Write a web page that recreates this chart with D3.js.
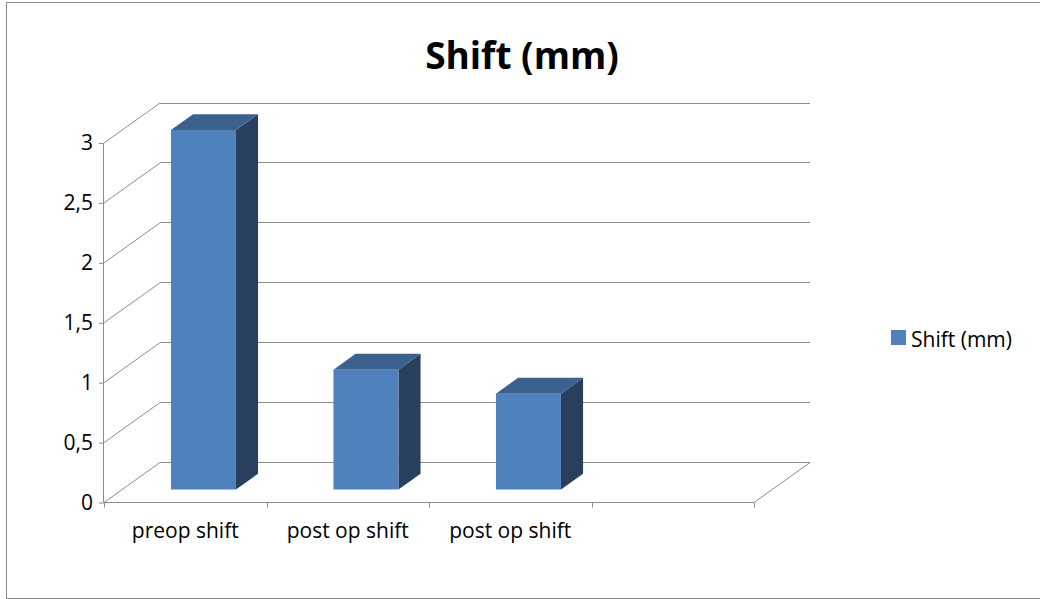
<!DOCTYPE html>
<html>
<head>
<meta charset="utf-8">
<script src="https://cdn.jsdelivr.net/npm/d3@7"></script>
<style>
  html, body { margin: 0; padding: 0; background: #fff; }
  svg { display: block; font-family: "Open Sans", Lato, sans-serif; }
</style>
</head>
<body>
<svg id="chart" width="1040" height="599"></svg>
<script>
// Chart data
const categories = ["preop shift", "post op shift", "post op shift", ""];
const values = [3, 1, 0.8, null];
const yTicks = [0, 0.5, 1, 1.5, 2, 2.5, 3];
const seriesName = "Shift (mm)";
const chartTitle = "Shift (mm)";

const svg = d3.select("#chart");
const FONT = "'Open Sans', sans-serif";
const LABEL_SIZE = 21;

// Outer frame
svg.append("rect")
  .attr("x", 6.5).attr("y", 2.5)
  .attr("width", 1040).attr("height", 596)
  .attr("fill", "#fff").attr("stroke", "#8a8a8a").attr("stroke-width", 1);

// Front plane scales
const x = d3.scaleBand()
  .domain(d3.range(categories.length))
  .range([104, 754])
  .paddingInner(0).paddingOuter(0);
const y = d3.scaleLinear().domain([0, 3]).range([502.5, 143]);

// Depth of the 3D box (offset of the back wall)
const depthX = 56, depthY = -40;
// Depth span occupied by the bars (fractions of the box depth)
const barFront = 0.325, barBack = 0.72;
const gapWidth = 1.5; // bar width = band / (1 + gap)

const gridColor = "#8c8c8c";
const g = svg.append("g");

// Back wall gridlines
g.selectAll("line.back")
  .data(yTicks)
  .join("line")
  .attr("x1", x.range()[0] + depthX).attr("x2", x.range()[1] + depthX)
  .attr("y1", d => y(d) + depthY).attr("y2", d => y(d) + depthY)
  .attr("stroke", gridColor).attr("stroke-width", 1)
  .attr("shape-rendering", "crispEdges");

// Side wall diagonals
g.selectAll("line.side")
  .data(yTicks)
  .join("line")
  .attr("x1", x.range()[0]).attr("y1", d => y(d))
  .attr("x2", x.range()[0] + depthX).attr("y2", d => y(d) + depthY)
  .attr("stroke", gridColor).attr("stroke-width", 1);

// Floor right edge
g.append("line")
  .attr("x1", x.range()[1]).attr("y1", y(0))
  .attr("x2", x.range()[1] + depthX).attr("y2", y(0) + depthY)
  .attr("stroke", gridColor).attr("stroke-width", 1);

// Y axis
const yAxis = d3.axisLeft(y)
  .tickValues(yTicks)
  .tickSize(5)
  .tickPadding(6)
  .tickFormat(d => String(d).replace(".", ","));
const yAxisG = svg.append("g")
  .attr("transform", `translate(${x.range()[0]},0)`)
  .call(yAxis);
yAxisG.select(".domain").attr("stroke", gridColor).attr("d", `M-0.5,${y(0)}V${y(3)}`);
yAxisG.selectAll(".tick line").attr("stroke", gridColor);
yAxisG.selectAll(".tick text")
  .attr("fill", "#000").attr("font-size", LABEL_SIZE).attr("font-family", FONT);

// X axis (category boundaries as ticks)
const xAxisG = svg.append("g");
xAxisG.append("line")
  .attr("x1", x.range()[0]).attr("x2", x.range()[1])
  .attr("y1", y(0)).attr("y2", y(0))
  .attr("stroke", gridColor).attr("shape-rendering", "crispEdges");
const bounds = d3.range(categories.length + 1).map(i =>
  i < categories.length ? x(i) : x.range()[1]);
xAxisG.selectAll("line.tick")
  .data(bounds)
  .join("line")
  .attr("x1", d => Math.round(d) + 0.5).attr("x2", d => Math.round(d) + 0.5)
  .attr("y1", y(0)).attr("y2", y(0) + 5)
  .attr("stroke", gridColor);
xAxisG.selectAll("text")
  .data(categories)
  .join("text")
  .attr("x", (d, i) => x(i) + x.bandwidth() / 2)
  .attr("y", 538)
  .attr("text-anchor", "middle")
  .attr("font-size", LABEL_SIZE)
  .attr("font-family", FONT)
  .attr("fill", "#000")
  .text(d => d);

// Bars as 3D boxes
const barW = x.bandwidth() / (1 + gapWidth);
const fx = barFront * depthX, fy = barFront * depthY;
const bx = barBack * depthX, by = barBack * depthY;
const bars = values.map((v, i) => ({ v, i })).filter(d => d.v != null);

const barG = svg.append("g").selectAll("g").data(bars).join("g");
barG.each(function(d) {
  const gg = d3.select(this);
  const cx = x(d.i) + x.bandwidth() / 2;
  const x0 = cx - barW / 2 + fx, x1 = cx + barW / 2 + fx;
  const yb = y(0) + fy, yt = y(d.v) + fy;
  const dx = bx - fx, dy = by - fy;
  // right side face
  gg.append("path")
    .attr("d", `M${x1},${yb}L${x1 + dx},${yb + dy}L${x1 + dx},${yt + dy}L${x1},${yt}Z`)
    .attr("fill", "#283f5e");
  // top face
  gg.append("path")
    .attr("d", `M${x0},${yt}L${x0 + dx},${yt + dy}L${x1 + dx},${yt + dy}L${x1},${yt}Z`)
    .attr("fill", "#3b628f");
  // front face
  gg.append("rect")
    .attr("x", x0).attr("y", yt)
    .attr("width", barW).attr("height", yb - yt)
    .attr("fill", "#4f81bd");
});

// Title
svg.append("text")
  .attr("x", 522).attr("y", 69)
  .attr("text-anchor", "middle")
  .attr("font-size", 37).attr("font-weight", "bold")
  .attr("font-family", FONT)
  .attr("fill", "#000")
  .text(chartTitle);

// Legend
const legend = svg.append("g").attr("transform", "translate(891,330)");
legend.append("rect").attr("width", 15).attr("height", 15).attr("fill", "#4f81bd");
legend.append("text")
  .attr("x", 20).attr("y", 16.5)
  .attr("font-size", LABEL_SIZE).attr("font-family", FONT).attr("fill", "#000")
  .text(seriesName);
</script>
</body>
</html>
